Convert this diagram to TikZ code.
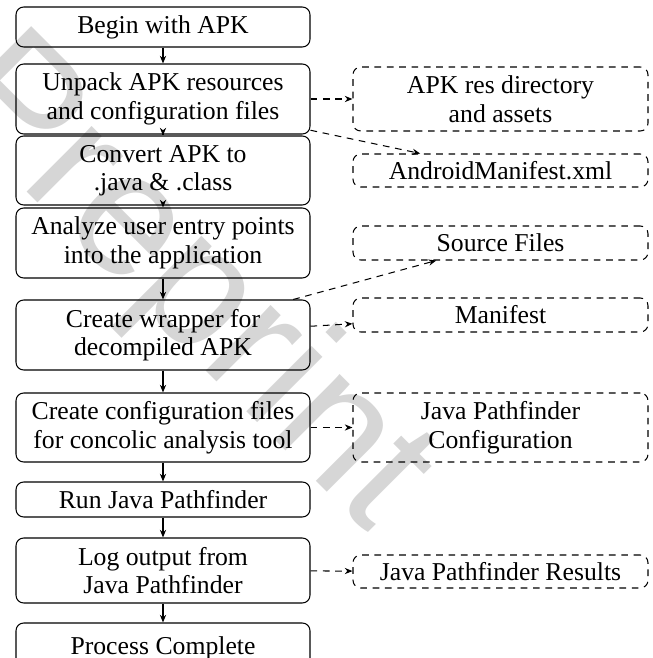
\documentclass[tikz,border=0pt]{standalone}
\usepackage{fontspec}
\setmainfont{Liberation Serif}
\newfontfamily\wmfont{Liberation Sans}
\usetikzlibrary{arrows.meta}
\def\PX{0.389pt}
\tikzset{
  mainbox/.style={draw=black, line width=0.4pt, rounded corners=3pt, align=center,
    minimum width={294*\PX}, inner sep=0pt, font=\fontsize{10}{11.1}\selectfont},
  sidebox/.style={mainbox, dash pattern=on 2.6pt off 2.2pt, minimum width={295*\PX}},
  arr/.style={-{Stealth[length=3pt,width=2.4pt]}, line width=0.4pt},
  darr/.style={arr, dash pattern=on 2.6pt off 2.2pt},
  wm/.style={text=black!16, font=\wmfont\fontsize{68}{68}\selectfont, rotate=-45, anchor=base west, inner sep=0pt}
}
\begin{document}
\begin{tikzpicture}[x=\PX, y=-\PX]
\useasboundingbox (0,0) rectangle (652,658);
\clip (0,0) rectangle (652,658);
\node[wm] (wmark) at (-64,101) {Preprint};
% main column
\node[mainbox, minimum height={40*\PX}] (b1) at (163,27) {Begin with APK};
\node[mainbox, minimum height={70*\PX}] (b2) at (163,99) {Unpack APK resources\\and configuration files};
\node[mainbox, minimum height={69*\PX}] (b3) at (163,170.5) {Convert APK to\\.java \& .class};
\node[mainbox, minimum height={70*\PX}] (b4) at (163,243) {Analyze user entry points\\into the application};
\node[mainbox, minimum height={70*\PX}] (b5) at (163,335) {Create wrapper for\\decompiled APK};
\node[mainbox, minimum height={69*\PX}] (b6) at (163,427.5) {Create configuration files\\for concolic analysis tool};
\node[mainbox, minimum height={35*\PX}] (b7) at (163,499.5) {Run Java Pathfinder};
\node[mainbox, minimum height={65*\PX}] (b8) at (163,570.5) {Log output from\\Java Pathfinder};
\node[mainbox, minimum height={50*\PX}] (b9) at (163,648) {Process Complete};
% side column
\node[sidebox, minimum height={64*\PX}] (r1) at (500.5,99) {APK res directory\\and assets};
\node[sidebox, minimum height={33*\PX}] (r2) at (500.5,170.5) {AndroidManifest.xml};
\node[sidebox, minimum height={34*\PX}] (r3) at (500.5,243) {Source Files};
\node[sidebox, minimum height={34*\PX}] (r4) at (500.5,315) {Manifest};
\node[sidebox, minimum height={69*\PX}] (r5) at (500.5,427.5) {Java Pathfinder\\Configuration};
\node[sidebox, minimum height={33*\PX}] (r6) at (500.5,571.5) {Java Pathfinder Results};
% main flow
\draw[arr] (b1) -- (b2);
\draw[arr] (b2) -- (b3);
\draw[arr] (b3) -- (b4);
\draw[arr] (b4) -- (b5);
\draw[arr] (b5) -- (b6);
\draw[arr] (b6) -- (b7);
\draw[arr] (b7) -- (b8);
\draw[arr] (b8) -- (b9);
% outputs
\draw[darr] (b2) -- (r1);
\draw[darr] (b2) -- (r2);
\draw[darr] (b5) -- (r3);
\draw[darr] (b5) -- (r4);
\draw[darr] (b6) -- (r5);
\draw[darr] (b8) -- (r6);
\end{tikzpicture}
\end{document}
